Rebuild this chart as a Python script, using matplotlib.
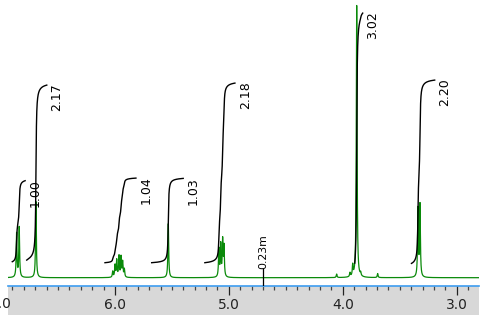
import numpy as np
import matplotlib
matplotlib.use("Agg")
import matplotlib.pyplot as plt
from matplotlib.patches import Rectangle
from matplotlib.ticker import MultipleLocator, FixedLocator

# ---- data ----
# peak list: chemical shift (ppm), height (intensity units), half width (ppm)
peak_ppm = [6.864, 6.841, 6.694,
            6.020, 6.000, 5.985, 5.965, 5.947, 5.933, 5.918,
            5.532,
            5.088, 5.072, 5.055, 5.043,
            4.054, 3.937, 3.913, 3.878, 3.843, 3.694,
            3.340, 3.322]
peak_height = [44, 50, 76,
               6, 12, 17, 21, 20, 15, 8,
               54,
               28, 32, 36, 30,
               3.5, 4, 11, 272, 3, 4,
               68, 72]
peak_hwhm = [0.004, 0.004, 0.004,
             0.004, 0.004, 0.004, 0.004, 0.004, 0.004, 0.004,
             0.004,
             0.004, 0.004, 0.004, 0.004,
             0.004, 0.004, 0.004, 0.004, 0.004, 0.004,
             0.004, 0.004]

# integral regions (ppm), drawn start/end levels and the integral values
int_start = [6.902, 6.775, 6.088, 5.678, 5.211, 3.895, 3.397]
int_end = [6.789, 6.599, 5.816, 5.401, 4.947, 3.825, 3.193]
int_low = [16.0, 17.6, 15.0, 15.0, 15.0, 14.6, 14.3]
int_high = [97.0, 192.6, 99.6, 99.3, 194.6, 264.6, 197.6]
int_labels = ["1.00", "2.17", "1.04", "1.03", "2.18", "3.02", "2.20"]

# multiplet annotation
mult_ppm = 4.698
mult_label = "0.23m"

# axis
x_left, x_right = 6.9394, 2.804
major_ticks = [7.0, 6.0, 5.0, 4.0, 3.0]
tick_labels = ["7.0", "6.0", "5.0", "4.0", "3.0"]

# ---- build spectrum ----
ppm = np.linspace(x_left, x_right, 40000)
spec = np.zeros_like(ppm)
for p, h, w in zip(peak_ppm, peak_height, peak_hwhm):
    spec += h * w**2 / ((ppm - p) ** 2 + w**2)

W, H = 497, 324
fig = plt.figure(figsize=(W / 100, H / 100), dpi=100)
fig.patch.set_facecolor("white")

# gray scale band
fig.patches.append(Rectangle((8 / W, (H - 314.5) / H), (479 - 8) / W, 28.8 / H,
                             transform=fig.transFigure, facecolor="#d8d8d8",
                             edgecolor="none", zorder=-5))

ax = fig.add_axes([8 / W, (H - 285.8) / H, (479 - 8) / W, 285.8 / H])
ax.set_facecolor("none")
ax.set_xlim(x_left, x_right)
ax.set_ylim(-8.1, 277.7)

ax.plot(ppm, spec, color="#0a8a0a", lw=0.9, zorder=3)

# integrals
for s, e, lo, hi, lab in zip(int_start, int_end, int_low, int_high, int_labels):
    m = (ppm <= s) & (ppm >= e)
    c = np.cumsum(spec[m])
    c = (c - c[0]) / (c[-1] - c[0])
    ax.plot(ppm[m], lo + c * (hi - lo), color="black", lw=1.0, zorder=4)
    ax.text(e - 0.09, hi + 1.5, lab, rotation=90, ha="center", va="top",
            fontsize=9, color="black", family="DejaVu Sans", zorder=5)

ax.plot([mult_ppm, mult_ppm], [-8.0, 8.5], color="black", lw=0.9, zorder=5)
ax.text(mult_ppm, 9.0, mult_label, rotation=90, ha="center", va="bottom",
        fontsize=7.8, color="black", zorder=5)

for side in ["top", "left", "right"]:
    ax.spines[side].set_visible(False)
ax.spines["bottom"].set_color("#3d9cf0")
ax.spines["bottom"].set_linewidth(1.2)
ax.yaxis.set_visible(False)

ax.xaxis.set_major_locator(FixedLocator(major_ticks))
ax.set_xticklabels(tick_labels)
ax.xaxis.set_minor_locator(MultipleLocator(0.1))
ax.tick_params(axis="x", which="major", direction="out", length=6.5, width=0.9,
               color="#222222", labelsize=10, pad=2.5, labelcolor="#222222")
ax.tick_params(axis="x", which="minor", direction="out", length=3.0, width=0.9,
               color="#444444")

# label of the 7.0 tick (outside the visible range, partly off the canvas)
ax.text(7.0, -26.5, "7.0", ha="center", va="center", fontsize=10,
        color="#222222", clip_on=False)

fig.savefig("out.png", dpi=100, facecolor="white")
